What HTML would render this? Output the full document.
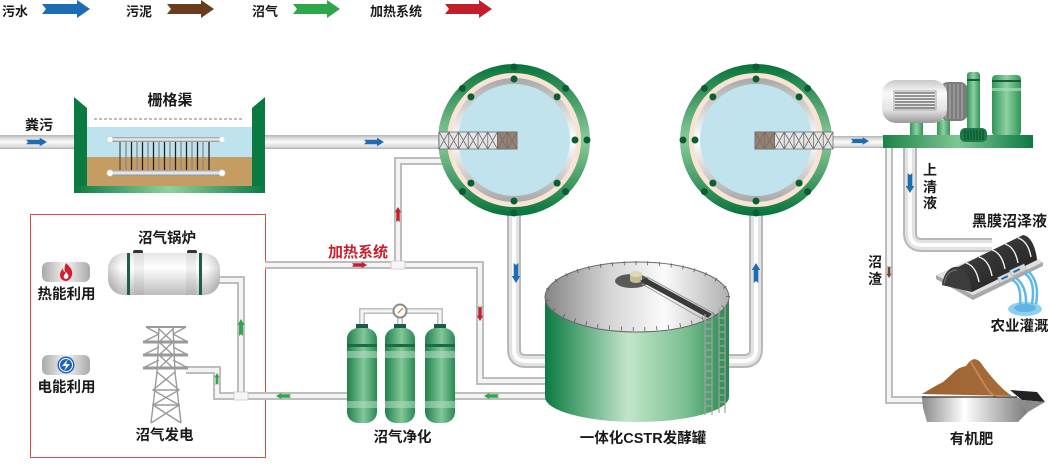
<!DOCTYPE html>
<html><head><meta charset="utf-8"><style>
html,body{margin:0;padding:0;background:#fff;}
svg{display:block;}
text{font-family:"Liberation Sans","Noto Sans CJK SC",sans-serif;font-weight:bold;fill:#1a1a1a;}
</style></head><body>
<svg width="1050" height="468" viewBox="0 0 1050 468" xmlns="http://www.w3.org/2000/svg">
<defs>
<linearGradient id="pipeH" x1="0" y1="0" x2="0" y2="1"><stop offset="0" stop-color="#b3b3b3"/><stop offset="0.2" stop-color="#d8d8d8"/><stop offset="0.5" stop-color="#fbfbfb"/><stop offset="0.85" stop-color="#dadada"/><stop offset="1" stop-color="#ababab"/></linearGradient>
<linearGradient id="gRing" x1="0" y1="0" x2="0" y2="1"><stop offset="0" stop-color="#07733a"/><stop offset="0.5" stop-color="#8ccb9b"/><stop offset="1" stop-color="#07733a"/></linearGradient>
<linearGradient id="gGray" x1="0" y1="0" x2="0" y2="1"><stop offset="0" stop-color="#a8a8a8"/><stop offset="0.5" stop-color="#ffffff"/><stop offset="1" stop-color="#a8a8a8"/></linearGradient>
<linearGradient id="gBot" x1="0" y1="0" x2="1" y2="0"><stop offset="0" stop-color="#0b7a41"/><stop offset="0.5" stop-color="#90d0a1"/><stop offset="1" stop-color="#0b7a41"/></linearGradient>
<linearGradient id="gBar" x1="0" y1="0" x2="0" y2="1"><stop offset="0" stop-color="#9a9a9a"/><stop offset="0.5" stop-color="#f5f5f5"/><stop offset="1" stop-color="#8a8a8a"/></linearGradient>
<linearGradient id="gTop" x1="0" y1="0" x2="1" y2="0"><stop offset="0" stop-color="#858585"/><stop offset="0.35" stop-color="#d5d5d5"/><stop offset="0.65" stop-color="#fbfbfb"/><stop offset="1" stop-color="#b0b0b0"/></linearGradient>
<linearGradient id="gBody" x1="0" y1="0" x2="1" y2="0"><stop offset="0" stop-color="#0b7a41"/><stop offset="0.45" stop-color="#c3e5ca"/><stop offset="0.75" stop-color="#7ec294"/><stop offset="1" stop-color="#27894f"/></linearGradient>
<linearGradient id="gCyl" x1="0" y1="0" x2="1" y2="0"><stop offset="0" stop-color="#1f8048"/><stop offset="0.55" stop-color="#82c79a"/><stop offset="1" stop-color="#2a8a52"/></linearGradient>
<linearGradient id="gBoil" x1="0" y1="0" x2="0" y2="1"><stop offset="0" stop-color="#e6e6e6"/><stop offset="0.35" stop-color="#ffffff"/><stop offset="1" stop-color="#bdbdbd"/></linearGradient>
<linearGradient id="gBoilX" x1="0" y1="0" x2="1" y2="0"><stop offset="0" stop-color="#000" stop-opacity="0.18"/><stop offset="0.12" stop-color="#000" stop-opacity="0"/><stop offset="0.88" stop-color="#000" stop-opacity="0"/><stop offset="1" stop-color="#000" stop-opacity="0.18"/></linearGradient>
<linearGradient id="gIcon" x1="0" y1="0" x2="1" y2="0"><stop offset="0" stop-color="#a9a9a9"/><stop offset="0.5" stop-color="#f4f4f4"/><stop offset="1" stop-color="#a9a9a9"/></linearGradient>
<linearGradient id="gMotor" x1="0" y1="0" x2="0" y2="1"><stop offset="0" stop-color="#c8c8c8"/><stop offset="0.3" stop-color="#fafafa"/><stop offset="0.7" stop-color="#e2e2e2"/><stop offset="1" stop-color="#999"/></linearGradient>
<linearGradient id="gGreenX" x1="0" y1="0" x2="1" y2="0"><stop offset="0" stop-color="#2f9658"/><stop offset="0.5" stop-color="#8ed0a2"/><stop offset="1" stop-color="#2f9658"/></linearGradient>
<linearGradient id="gBase" x1="0" y1="0" x2="1" y2="0"><stop offset="0" stop-color="#1c8447"/><stop offset="0.5" stop-color="#7ec594"/><stop offset="1" stop-color="#0b7a41"/></linearGradient>
<linearGradient id="gCart" x1="0" y1="0" x2="1" y2="0"><stop offset="0" stop-color="#8a8a8a"/><stop offset="0.4" stop-color="#ffffff"/><stop offset="1" stop-color="#7a7a7a"/></linearGradient>
<linearGradient id="gDome" x1="0" y1="0" x2="1" y2="1"><stop offset="0" stop-color="#4a4a4a"/><stop offset="1" stop-color="#1c1c1c"/></linearGradient>
<linearGradient id="gPile" x1="0" y1="0" x2="1" y2="0"><stop offset="0" stop-color="#9b6332"/><stop offset="1" stop-color="#a86c38"/></linearGradient>
<polygon id="ar" points="0,-2.3 13,-2.3 13,-4.2 20,0 13,4.2 13,2.3 0,2.3 2,0"/>
</defs>

<!-- Legend -->
<text x="2" y="16" font-size="13">污水</text>
<polygon points="42,4 77,4 77,0 90,9 77,18 77,14 42,14 46,9" fill="#1d6db3"/>
<text x="126" y="16" font-size="13">污泥</text>
<polygon points="167,4 201,4 201,0 214,9 201,18 201,14 167,14 171,9" fill="#6a3b1c"/>
<text x="252" y="16" font-size="13">沼气</text>
<polygon points="293,4 327,4 327,0 340,9 327,18 327,14 293,14 297,9" fill="#2ea64a"/>
<text x="370" y="16" font-size="13">加热系统</text>
<polygon points="445,4 479,4 479,0 492,9 479,18 479,14 445,14 449,9" fill="#c21f2b"/>

<!-- Red box -->
<rect x="30.5" y="214.5" width="235" height="243" fill="none" stroke="#e2483d" stroke-width="1"/>

<!-- Main straight pipes -->
<rect x="0" y="135" width="75" height="14" fill="url(#pipeH)"/>
<rect x="264" y="135" width="178" height="14" fill="url(#pipeH)"/>
<rect x="830" y="136" width="55" height="12" fill="url(#pipeH)"/>

<!-- Thin pipes -->
<g fill="none" stroke-linejoin="miter">
<g stroke="#bdbdbd" stroke-width="8">
<path d="M265,265 H480 V381 H550"/>
<path d="M398,265 V161 H450"/>
<path d="M550,396 H450"/>
<path d="M350,396 H217 V370 H186"/>
<path d="M241,396 V280 H218"/>
<path d="M889,147 V400 H926"/>
</g>
<g stroke="#f4f4f4" stroke-width="4">
<path d="M265,265 H480 V381 H550"/>
<path d="M398,265 V161 H450"/>
<path d="M550,396 H450"/>
<path d="M350,396 H217 V370 H186"/>
<path d="M241,396 V280 H218"/>
<path d="M889,147 V400 H926"/>
</g>
<g stroke="#bdbdbd" stroke-width="6"><path d="M362,327 V311 H440 V327"/><path d="M400,311 V327"/></g>
<g stroke="#f4f4f4" stroke-width="3"><path d="M362,327 V311 H440 V327"/><path d="M400,311 V327"/></g>
</g>
<rect x="391" y="261" width="14" height="8" fill="#f6f6f6" stroke="#c8c8c8" stroke-width="0.8"/>
<rect x="234" y="392" width="14" height="8" fill="#f6f6f6" stroke="#c8c8c8" stroke-width="0.8"/>

<!-- Big elbow pipes -->
<g fill="none">
<g stroke="#b8b8b8" stroke-width="14">
<path d="M514,205 V349 Q514,361 526,361 H552"/>
<path d="M756,205 V349 Q756,361 744,361 H724"/>
<path d="M910,147 V233 Q910,245 922,245 H992"/>
</g>
<g stroke="#e2e2e2" stroke-width="10">
<path d="M514,205 V349 Q514,361 526,361 H552"/>
<path d="M756,205 V349 Q756,361 744,361 H724"/>
<path d="M910,147 V233 Q910,245 922,245 H992"/>
</g>
<g stroke="#fcfcfc" stroke-width="4">
<path d="M514,205 V349 Q514,361 526,361 H552"/>
<path d="M756,205 V349 Q756,361 744,361 H724"/>
<path d="M910,147 V233 Q910,245 922,245 H992"/>
</g>
</g>

<!-- Grille channel -->
<polygon points="74,97 87,108 87,186 252,186 252,108 265,97 265,193 74,193" fill="#0b7a41"/>
<rect x="74" y="186" width="191" height="7" fill="url(#gBot)"/>
<rect x="87" y="108" width="165" height="19" fill="#fff"/>
<rect x="87" y="127" width="165" height="30" fill="#bfe3ee"/>
<rect x="87" y="157" width="165" height="29" fill="#c59d63"/>
<line x1="94" y1="119" x2="243" y2="119" stroke="#7a7a7a" stroke-width="1" stroke-dasharray="3,2"/>
<g stroke-width="1.3">
<line x1="120" y1="141" x2="120" y2="171" stroke="#555"/><line x1="126" y1="141" x2="126" y2="171" stroke="#888"/>
<line x1="131.5" y1="141" x2="131.5" y2="171" stroke="#222"/><line x1="137" y1="141" x2="137" y2="171" stroke="#888"/>
<line x1="142.5" y1="141" x2="142.5" y2="171" stroke="#222"/><line x1="148" y1="141" x2="148" y2="171" stroke="#888"/>
<line x1="153.5" y1="141" x2="153.5" y2="171" stroke="#222"/><line x1="159" y1="141" x2="159" y2="171" stroke="#888"/>
<line x1="164.5" y1="141" x2="164.5" y2="171" stroke="#222"/><line x1="170" y1="141" x2="170" y2="171" stroke="#888"/>
<line x1="175.5" y1="141" x2="175.5" y2="171" stroke="#222"/><line x1="181" y1="141" x2="181" y2="171" stroke="#888"/>
<line x1="186.5" y1="141" x2="186.5" y2="171" stroke="#222"/><line x1="192" y1="141" x2="192" y2="171" stroke="#888"/>
<line x1="197.5" y1="141" x2="197.5" y2="171" stroke="#222"/><line x1="203" y1="141" x2="203" y2="171" stroke="#888"/>
<line x1="209" y1="141" x2="209" y2="171" stroke="#222"/>
</g>
<rect x="110" y="137" width="112" height="5" fill="url(#gBar)"/>
<rect x="110" y="170" width="112" height="6" fill="url(#gBar)"/>
<circle cx="110" cy="139.5" r="3" fill="#fff" stroke="#ccc" stroke-width="0.6"/>
<circle cx="222" cy="139.5" r="3" fill="#fff" stroke="#ccc" stroke-width="0.6"/>
<circle cx="110" cy="173" r="3.2" fill="#fff" stroke="#ccc" stroke-width="0.6"/>
<circle cx="222" cy="173" r="3.2" fill="#fff" stroke="#ccc" stroke-width="0.6"/>

<!-- Circle 1 -->
<g transform="translate(514,140)">
<circle r="76" fill="url(#gRing)"/>
<circle r="67" fill="#f8e4d4"/>
<circle r="62" fill="url(#gGray)"/>
<circle r="56" fill="#c0e3ee"/>
<g fill="#0a5e30">
<circle cx="0" cy="-73" r="3.5"/><circle cx="51.6" cy="-51.6" r="3.5"/><circle cx="73" cy="0" r="3.5"/><circle cx="51.6" cy="51.6" r="3.5"/><circle cx="0" cy="73" r="3.5"/><circle cx="-51.6" cy="51.6" r="3.5"/><circle cx="-51.6" cy="-51.6" r="3.5"/>
<circle cx="0" cy="-61" r="3.5"/><circle cx="43.1" cy="-43.1" r="3.5"/><circle cx="61" cy="0" r="3.5"/><circle cx="43.1" cy="43.1" r="3.5"/><circle cx="0" cy="61" r="3.5"/><circle cx="-43.1" cy="43.1" r="3.5"/><circle cx="-43.1" cy="-43.1" r="3.5"/>
</g>
</g>
<g transform="translate(439,132)" stroke="#6e6e6e" stroke-width="0.8">
<rect x="0" y="0" width="78" height="17" fill="#e4e4e4"/>
<rect x="58.5" y="0" width="19.5" height="17" fill="#9a8070"/>
<path d="M0,0 L9.75,17 M9.75,0 L0,17 M9.75,0 L19.5,17 M19.5,0 L9.75,17 M19.5,0 L29.25,17 M29.25,0 L19.5,17 M29.25,0 L39,17 M39,0 L29.25,17 M39,0 L48.75,17 M48.75,0 L39,17 M48.75,0 L58.5,17 M58.5,0 L48.75,17 M58.5,0 L68.25,17 M68.25,0 L58.5,17 M68.25,0 L78,17 M78,0 L68.25,17 M9.75,0 V17 M19.5,0 V17 M29.25,0 V17 M39,0 V17 M48.75,0 V17 M58.5,0 V17 M68.25,0 V17" fill="none"/>
</g>

<!-- Circle 2 -->
<g transform="translate(756,140)">
<circle r="76" fill="url(#gRing)"/>
<circle r="67" fill="#f8e4d4"/>
<circle r="62" fill="url(#gGray)"/>
<circle r="56" fill="#c0e3ee"/>
<g fill="#0a5e30">
<circle cx="0" cy="-73" r="3.5"/><circle cx="51.6" cy="-51.6" r="3.5"/><circle cx="51.6" cy="51.6" r="3.5"/><circle cx="0" cy="73" r="3.5"/><circle cx="-51.6" cy="51.6" r="3.5"/><circle cx="-73" cy="0" r="3.5"/><circle cx="-51.6" cy="-51.6" r="3.5"/>
<circle cx="0" cy="-61" r="3.5"/><circle cx="43.1" cy="-43.1" r="3.5"/><circle cx="43.1" cy="43.1" r="3.5"/><circle cx="0" cy="61" r="3.5"/><circle cx="-43.1" cy="43.1" r="3.5"/><circle cx="-61" cy="0" r="3.5"/><circle cx="-43.1" cy="-43.1" r="3.5"/>
</g>
</g>
<g transform="translate(755,132)" stroke="#6e6e6e" stroke-width="0.8">
<rect x="0" y="0" width="78" height="17" fill="#e4e4e4"/>
<rect x="0" y="0" width="19.5" height="17" fill="#9a8070"/>
<path d="M0,0 L9.75,17 M9.75,0 L0,17 M9.75,0 L19.5,17 M19.5,0 L9.75,17 M19.5,0 L29.25,17 M29.25,0 L19.5,17 M29.25,0 L39,17 M39,0 L29.25,17 M39,0 L48.75,17 M48.75,0 L39,17 M48.75,0 L58.5,17 M58.5,0 L48.75,17 M58.5,0 L68.25,17 M68.25,0 L58.5,17 M68.25,0 L78,17 M78,0 L68.25,17 M9.75,0 V17 M19.5,0 V17 M29.25,0 V17 M39,0 V17 M48.75,0 V17 M58.5,0 V17 M68.25,0 V17" fill="none"/>
</g>

<!-- Tank -->
<path d="M545,297 L545,397 A92,25 0 0 0 729,397 L729,297 Z" fill="url(#gBody)"/>
<ellipse cx="637" cy="297" rx="92" ry="35" fill="url(#gTop)" stroke="#6a6a6a" stroke-width="1"/>
<ellipse cx="637" cy="296" rx="91" ry="33" fill="none" stroke="#5a5a5a" stroke-width="4" stroke-dasharray="0.8,11"/>
<ellipse cx="632" cy="281" rx="17" ry="7" fill="#5a5a5a"/>
<path d="M630,274 V280 A6,3 0 0 0 642,280 V274 Z" fill="#c9bd98"/>
<ellipse cx="636" cy="274" rx="6" ry="3" fill="#e0d6b8"/>
<path d="M640,281 L708,318 L712,314 L646,278 Z" fill="#3a3a3a"/>
<path d="M642,284 L706,321" stroke="#999" stroke-width="1"/>
<path d="M647,277 L713,313" stroke="#999" stroke-width="1"/>
<g stroke="#a0a0a0" stroke-width="1.2" fill="none">
<path d="M705,314 V415 M712,314 V415 M719,308 V413 M725,306 V413"/>
<path d="M705,322 H712 M705,329 H712 M705,336 H712 M705,343 H712 M705,350 H712 M705,357 H712 M705,364 H712 M705,371 H712 M705,378 H712 M705,385 H712 M705,392 H712 M705,399 H712 M705,406 H712"/>
<path d="M719,318 H725 M719,325 H725 M719,332 H725 M719,339 H725 M719,346 H725 M719,353 H725 M719,360 H725 M719,367 H725 M719,374 H725 M719,381 H725 M719,388 H725 M719,395 H725 M719,402 H725"/>
</g>

<!-- Purification cylinders -->
<g>
<rect x="356" y="324" width="12" height="5" fill="#1b5a4a"/>
<rect x="394" y="324" width="12" height="5" fill="#1b5a4a"/>
<rect x="434" y="324" width="12" height="5" fill="#1b5a4a"/>
<rect x="347" y="328" width="30" height="95" rx="11" fill="url(#gCyl)"/>
<rect x="385" y="328" width="30" height="95" rx="11" fill="url(#gCyl)"/>
<rect x="425" y="328" width="30" height="95" rx="11" fill="url(#gCyl)"/>
<g fill="#1d6a48"><rect x="347" y="344" width="30" height="3"/><rect x="385" y="344" width="30" height="3"/><rect x="425" y="344" width="30" height="3"/></g>
<g fill="#b6e0c2" opacity="0.55"><rect x="347" y="351" width="30" height="7"/><rect x="385" y="351" width="30" height="7"/><rect x="425" y="351" width="30" height="7"/><rect x="347" y="401" width="30" height="7"/><rect x="385" y="401" width="30" height="7"/><rect x="425" y="401" width="30" height="7"/></g>
<circle cx="400" cy="311" r="7.5" fill="#8a8a8a"/>
<circle cx="400" cy="311" r="5.5" fill="#fff"/>
<line x1="398" y1="313" x2="403" y2="308" stroke="#d0761e" stroke-width="1.2"/>
</g>

<!-- Boiler -->
<rect x="133" y="250" width="10" height="5" rx="2" fill="#333"/>
<rect x="187" y="250" width="10" height="5" rx="2" fill="#333"/>
<rect x="108" y="253" width="112" height="42" rx="16" fill="url(#gBoil)"/>
<rect x="108" y="253" width="112" height="42" rx="16" fill="url(#gBoilX)"/>
<rect x="134" y="253" width="10" height="42" fill="#000" opacity="0.05"/>
<rect x="186" y="253" width="10" height="42" fill="#000" opacity="0.05"/>
<rect x="127" y="253" width="3" height="42" fill="#1f5e4e"/>
<rect x="199" y="253" width="3" height="42" fill="#1f5e4e"/>

<!-- Tower -->
<g stroke="#9a9a9a" fill="none" stroke-width="1.4">
<path d="M159,326 L157,372 L151,423 M173,326 L175,372 L181,423"/>
<path d="M157,372 L179,390 L153,405 L181,423 M175,372 L153,390 L179,405 L151,423"/>
<path d="M155,390 H178 M153,405 H180"/>
<path d="M159,329 L173,342 M173,329 L159,342 M159,342 L173,355 M173,342 L159,355 M159,355 L173,368 M173,355 L159,368"/>
<path d="M146,327 H186" stroke-width="2"/>
<path d="M143,342 H188 M143,355 H188 M143,368 H188" stroke-width="3"/>
<path d="M143,342 L159,334 M188,342 L173,334 M143,355 L159,347 M188,355 L173,347 M143,368 L159,360 M188,368 L173,360"/>
<path d="M146,327 L159,334 M186,327 L173,334"/>
</g>

<!-- Icons -->
<rect x="42" y="262" width="48" height="20" rx="6" fill="url(#gIcon)"/>
<path d="M66,263 C70,267 73,270 72,275 C71,279 68,281 66,281 C63,281 60,279 60,275 C60,272 62,270 63,268 C63,271 64,272 65,272 C64,268 65,265 66,263 Z" fill="#d4202c"/>
<path d="M66,272 C68,274 69,276 68,278 C67,279 65,279 64,278 C63,276 65,274 66,272 Z" fill="#fff"/>
<rect x="42" y="355" width="48" height="20" rx="6" fill="url(#gIcon)"/>
<circle cx="66" cy="365" r="8.5" fill="#1f62c0"/>
<circle cx="66" cy="365" r="6.5" fill="none" stroke="#fff" stroke-width="1"/>
<path d="M68,359 L62,366 L66,366 L64,371 L70,364 L66,364 Z" fill="#fff"/>

<!-- Pump assembly -->
<rect x="910" y="120" width="13" height="16" fill="url(#gGreenX)"/>
<rect x="937" y="120" width="13" height="16" fill="url(#gGreenX)"/>
<rect x="940" y="82" width="28" height="39" rx="8" fill="#7c7c7c"/>
<g stroke="#a8a8a8" stroke-width="1.2"><path d="M946,84 V119 M950,84 V119 M954,84 V119 M958,84 V119 M962,84 V119"/></g>
<rect x="882" y="80" width="65" height="43" rx="14" fill="url(#gMotor)"/>
<g stroke="#5a5a5a" stroke-width="1.3"><path d="M895,93 H935 M895,96 H935 M895,99 H935 M895,102 H935 M895,105 H935 M895,108 H935"/></g>
<rect x="894" y="91" width="42" height="19" fill="none" stroke="#999" stroke-width="0.8"/>
<rect x="967" y="72" width="13" height="64" rx="3" fill="url(#gGreenX)"/>
<rect x="967" y="79" width="13" height="2" fill="#1b5a3a"/>
<rect x="992" y="75" width="29" height="61" rx="4" fill="url(#gGreenX)"/>
<rect x="992" y="80" width="29" height="2" fill="#1b5a3a"/>
<rect x="992" y="88" width="29" height="3" fill="#a8dcb7" opacity="0.7"/>
<rect x="883" y="135" width="150" height="13" fill="url(#gBase)"/>
<rect x="960" y="128" width="27" height="14" rx="5" fill="#1d7a48"/>
<g stroke="#0b4a2a" stroke-width="1"><path d="M965,130 V140 M968,130 V140 M971,130 V140 M974,130 V140 M977,130 V140 M980,130 V140 M983,130 V140"/></g>

<!-- Black membrane -->
<polygon points="936,275 973,295 1043,262 1043,266 973,300 936,279" fill="#a9a9a9"/>
<polygon points="936,275 973,295 1043,262 1008,243" fill="#e0e0e0"/>
<path d="M942,285 C944,272 951,266 958,267 L1023,235 C1031,236 1036,248 1037,260 L972,292 Z" fill="url(#gDome)"/>
<path d="M942,285 C944,272 951,266 958,267 C966,268 971,280 972,292 Z" fill="#3c3c3c"/>
<path d="M944,284 C946,274 951,270 957,270" stroke="#777" stroke-width="1" fill="none"/>
<g stroke="#f2f2f2" stroke-width="1.4" fill="none">
<path d="M966,263 Q976,266 979,282"/>
<path d="M979,257 Q989,260 992,276"/>
<path d="M992,250 Q1002,253 1005,269"/>
<path d="M1005,244 Q1015,247 1018,263"/>
<path d="M1018,238 Q1028,241 1031,257"/>
</g>
<g transform="rotate(-25 1006 277)"><rect x="998" y="274" width="16" height="6" fill="#d9d9d9" stroke="#aaa" stroke-width="0.5"/><rect x="1001" y="276" width="7" height="2" fill="#1d6db3"/></g>
<g transform="rotate(-25 1018 270)"><rect x="1010" y="267" width="16" height="6" fill="#d9d9d9" stroke="#aaa" stroke-width="0.5"/><rect x="1013" y="269" width="7" height="2" fill="#1d6db3"/></g>
<ellipse cx="1025" cy="309" rx="17" ry="7" fill="#8fd0f0"/>
<ellipse cx="1025" cy="308" rx="11" ry="4" fill="#4aa7e0" opacity="0.7"/>
<path d="M1012,280 Q1022,284 1020,306 M1016,278 Q1027,286 1026,306 M1024,273 Q1036,280 1032,304 M1028,271 Q1040,282 1036,304" stroke="#5fb8e8" stroke-width="2.5" fill="none"/>

<!-- Fertilizer cart -->
<polygon points="1010,390 1037,392 1045,402 1022,400" fill="#222"/>
<polygon points="1017,397 1022,400 1045,402 1028,412" fill="#8a8a8a"/>
<path d="M922,394 Q935,386 943,382 Q950,376 955,371 Q960,367 966,366 Q970,360 974,359 Q979,359 983,366 Q992,378 1000,386 Q1006,392 1012,396 Z" fill="url(#gPile)"/>
<path d="M971,362 Q980,378 988,390 Q992,395 996,397" stroke="#c48a55" stroke-width="1.8" fill="none"/>
<polygon points="922,397 1017,397 1028,412 1018,422 927,422 923,408" fill="url(#gCart)"/>
<line x1="922" y1="397" x2="1017" y2="397" stroke="#333" stroke-width="1.2"/>

<!-- Arrows -->
<g fill="#1d6db3">
<use href="#ar" transform="translate(26,142) scale(1.05,1)"/>
<use href="#ar" transform="translate(364,142)"/>
<use href="#ar" transform="translate(851,141) scale(0.9)"/>
<use href="#ar" transform="translate(516,263) rotate(90)"/>
<use href="#ar" transform="translate(756,283) rotate(-90)"/>
<use href="#ar" transform="translate(910,173) rotate(90)"/>
</g>
<g fill="#c21f2b">
<use href="#ar" transform="translate(398,222) rotate(-90) scale(0.75)"/>
<use href="#ar" transform="translate(352,265) scale(0.75)"/>
<use href="#ar" transform="translate(480,306) rotate(90) scale(0.75)"/>
</g>
<g fill="#2ea64a">
<use href="#ar" transform="translate(241,336) rotate(-90) scale(0.85)"/>
<use href="#ar" transform="translate(217,385) rotate(-90) scale(0.6)"/>
<use href="#ar" transform="translate(291,396) rotate(180) scale(0.75)"/>
<use href="#ar" transform="translate(499,396) rotate(180) scale(0.75)"/>
</g>
<g fill="#7a4520">
<use href="#ar" transform="translate(889,266) rotate(90) scale(0.6)"/>
</g>

<!-- Labels -->
<text x="25" y="130" font-size="14">粪污</text>
<text x="170" y="105" font-size="15" text-anchor="middle">栅格渠</text>
<text x="167" y="243" font-size="14.5" text-anchor="middle">沼气锅炉</text>
<text x="66.5" y="299" font-size="14.5" text-anchor="middle">热能利用</text>
<text x="66.5" y="392" font-size="14.5" text-anchor="middle">电能利用</text>
<text x="164.5" y="440" font-size="14.5" text-anchor="middle">沼气发电</text>
<text x="358" y="257" font-size="15" text-anchor="middle" style="fill:#c8202c">加热系统</text>
<text x="402.5" y="442" font-size="14.5" text-anchor="middle">沼气净化</text>
<text x="643" y="443" font-size="14.5" text-anchor="middle">一体化CSTR发酵罐</text>
<text x="930" y="175" font-size="14" text-anchor="middle">上</text>
<text x="930" y="192" font-size="14" text-anchor="middle">清</text>
<text x="930" y="208" font-size="14" text-anchor="middle">液</text>
<text x="875" y="267" font-size="14" text-anchor="middle">沼</text>
<text x="875" y="284" font-size="14" text-anchor="middle">渣</text>
<text x="1009.5" y="226" font-size="15" text-anchor="middle">黑膜沼泽液</text>
<text x="1019.5" y="331" font-size="14.5" text-anchor="middle">农业灌溉</text>
<text x="971.5" y="444" font-size="14.5" text-anchor="middle">有机肥</text>
</svg>
</body></html>
